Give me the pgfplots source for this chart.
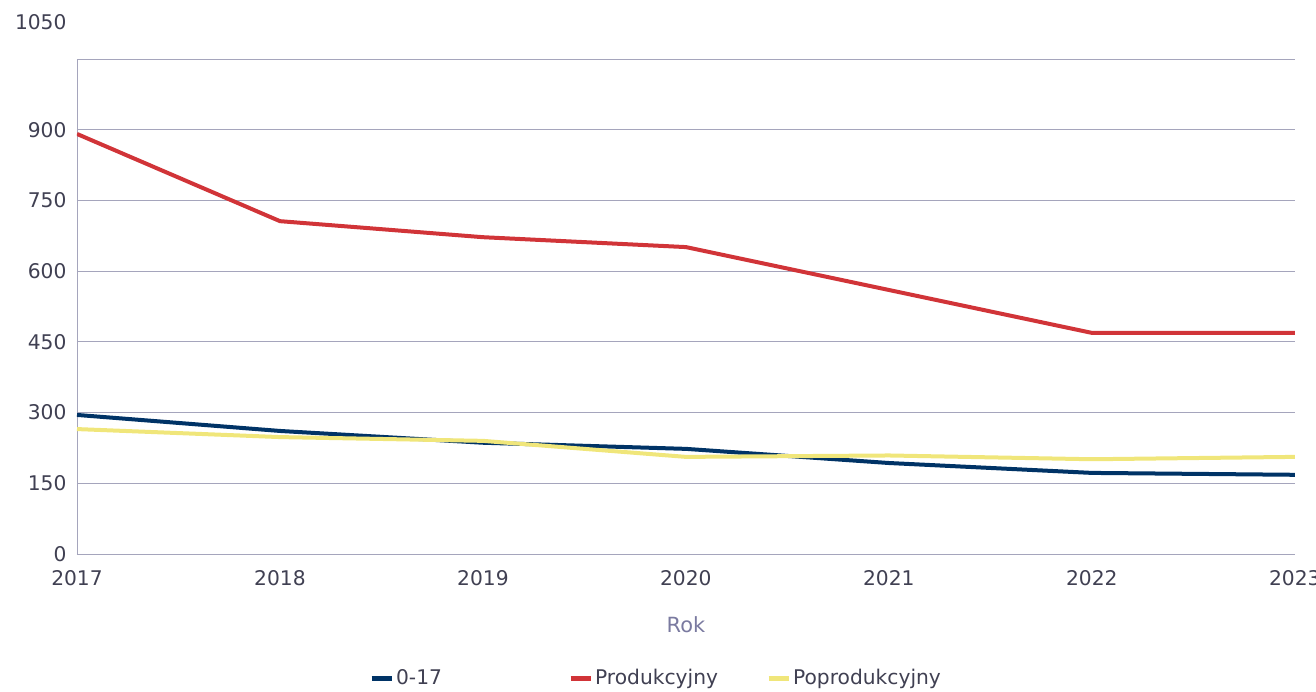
\documentclass[border=0pt]{standalone}
\usepackage{pgfplots}
\pgfplotsset{compat=1.18}
\usepackage{fontspec}
\setmainfont{DejaVu Sans}
\definecolor{cblue}{RGB}{0,51,102}
\definecolor{cred}{RGB}{209,52,56}
\definecolor{cyel}{RGB}{240,230,122}
\definecolor{cgrid}{RGB}{165,165,188}
\definecolor{ctext}{RGB}{64,64,82}
\definecolor{clab}{RGB}{122,122,160}
\begin{document}
\begin{tikzpicture}
\begin{axis}[
  scale only axis,
  width=1218bp, height=495bp,
  xmin=2017, xmax=2023, ymin=0, ymax=1050,
  xtick={2017,...,2023},
  ytick={0,150,...,900},
  extra y ticks={1050},
  extra y tick style={grid=major, yticklabel style={yshift=37bp}},
  ymajorgrids,
  grid style={cgrid, line width=0.8bp},
  major tick length=0pt,
  separate axis lines,
  axis x line*=bottom,
  axis y line*=left,
  axis line style={cgrid, line width=0.8bp, -},
  /pgf/number format/1000 sep={},
  /pgf/number format/assume math mode=true,
  tick label style={font=\fontsize{20.3}{24}\selectfont, text=ctext},
  yticklabel style={xshift=-7bp},
  xticklabel style={yshift=-13bp},
  xlabel={Rok},
  xlabel style={font=\fontsize{21}{25}\selectfont, text=clab, yshift=-24bp},
  legend style={draw=none, fill=none, inner sep=0pt, at={(rel axis cs:0.2397,-0.2505)}, anchor=west,
    font=\fontsize{20.3}{24}\selectfont, text=ctext, legend columns=3,
    /tikz/every even column/.append style={column sep=4bp}},
  legend cell align=left,
  legend image code/.code={\draw[line width=5bp] (0bp,0bp) -- (20bp,0bp);},
]
\addplot[cblue, line width=4bp] coordinates {(2017,295) (2018,261) (2019,236) (2020,223) (2021,193) (2022,172) (2023,168)};
\addlegendentry{\makebox[166bp][l]{0-17}}
\addplot[cred, line width=4bp] coordinates {(2017,891) (2018,706) (2019,672) (2020,651) (2021,560) (2022,469) (2023,469)};
\addlegendentry{\makebox[165bp][l]{Produkcyjny}}
\addplot[cyel, line width=4bp] coordinates {(2017,265) (2018,248) (2019,240) (2020,206) (2021,209) (2022,201) (2023,206)};
\addlegendentry{Poprodukcyjny}
\end{axis}
\pgfresetboundingbox
\useasboundingbox (-77bp,-138bp) rectangle (1239bp,554bp);
\end{tikzpicture}
\end{document}
